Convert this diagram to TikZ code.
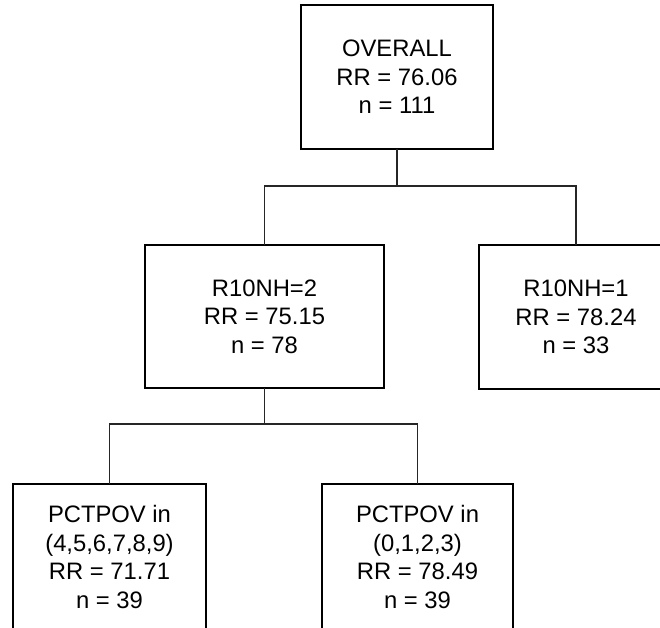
\documentclass[tikz,border=0pt]{standalone}
\usepackage{fontspec}
\setmainfont{Liberation Sans}
\begin{document}
\begin{tikzpicture}[x=1pt,y=-1pt,
  box/.style={draw=black, line width=1.6pt, rectangle, inner sep=0pt, outer sep=0pt,
    align=center, font=\fontsize{23.8}{28.4}\selectfont, text=black},
  conn/.style={draw=black!85, line width=1.1pt}]
\useasboundingbox (0,0) rectangle (660,627);
\clip (0,0) rectangle (660,627);
\fill[white] (0,0) rectangle (660,627);
\node[box, minimum width=192pt, minimum height=144pt] (top) at (397,77) {OVERALL\\RR = 76.06\\n = 111};
\node[box, minimum width=239pt, minimum height=143pt] (ml) at (264.5,316.5) {R10NH=2\\RR = 75.15\\n = 78};
\node[box, minimum width=194pt, minimum height=144pt] (mr) at (576,317) {R10NH=1\\RR = 78.24\\n = 33};
\node[box, minimum width=193pt, minimum height=146pt] (bl) at (109.5,557) {PCTPOV in\\(4,5,6,7,8,9)\\RR = 71.71\\n = 39};
\node[box, minimum width=191pt, minimum height=146pt] (br) at (417.5,557) {PCTPOV in\\(0,1,2,3)\\RR = 78.49\\n = 39};
\coordinate (j1) at (397,186);
\coordinate (j2) at (264.5,424);
\draw[conn] (top.south) -- (j1);
\draw[conn] (j1) -| (ml.north);
\draw[conn] (j1) -| (mr.north);
\draw[conn] (ml.south) -- (j2);
\draw[conn] (j2) -| (bl.north);
\draw[conn] (j2) -| (br.north);
\end{tikzpicture}
\end{document}
